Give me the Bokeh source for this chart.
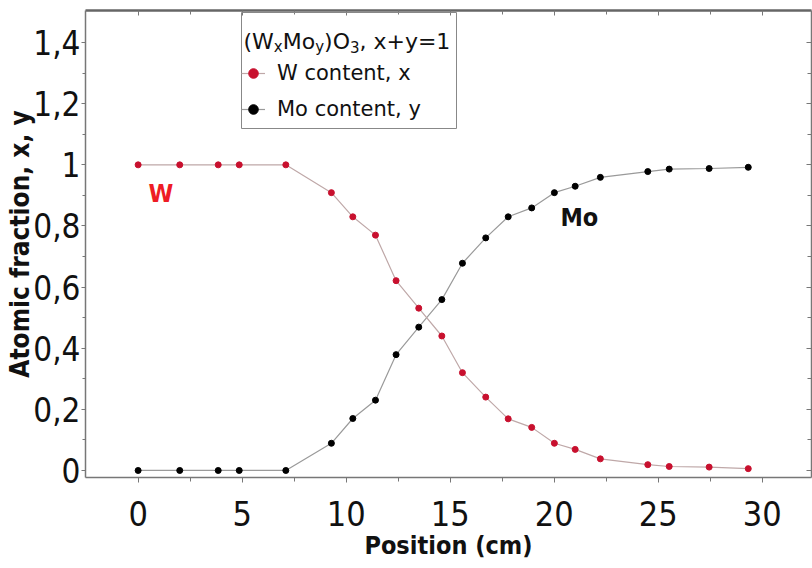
from bokeh.plotting import figure
from bokeh.models import Range1d, LinearAxis, FixedTicker, Legend, LegendItem, Label, BoxAnnotation
from bokeh.embed import file_html
from bokeh.resources import INLINE

# ---------------- data ----------------
position_cm = [0, 2.0, 3.85, 4.86, 7.1, 9.29, 10.32, 11.41, 12.4, 13.49, 14.6,
               15.59, 16.71, 17.79, 18.92, 20.01, 21.01, 22.22, 24.5, 25.53, 27.45, 29.33]
w_content = [1.0, 1.0, 1.0, 1.0, 1.0, 0.909, 0.83, 0.77, 0.621, 0.531, 0.44,
             0.32, 0.24, 0.169, 0.141, 0.089, 0.069, 0.038, 0.019, 0.013, 0.011, 0.006]
mo_content = [0.0, 0.0, 0.0, 0.0, 0.0, 0.089, 0.17, 0.23, 0.379, 0.469, 0.559,
              0.678, 0.761, 0.83, 0.859, 0.909, 0.93, 0.959, 0.978, 0.986, 0.988, 0.992]
series_names = ["W content, x", "Mo content, y"]

x_ticks = [0, 5, 10, 15, 20, 25, 30]
x_minor_ticks = [2.5, 7.5, 12.5, 17.5, 22.5, 27.5]
y_ticks = [0, 0.2, 0.4, 0.6, 0.8, 1.0, 1.2, 1.4]
y_tick_labels = ["0", "0,2", "0,4", "0,6", "0,8", "1", "1,2", "1,4"]
y_minor_ticks = [0.1, 0.3, 0.5, 0.7, 0.9, 1.1, 1.3]

# annotation anchors (data units)
w_note = dict(text="W", x=0.5, y=0.905)
mo_note = dict(text="Mo", x=20.3, y=0.828)

# ---------------- styles ----------------
AX_FONT = "DejaVu Sans Condensed"
LEG_FONT = "DejaVu Sans"
RED = "#c8102e"
AXIS_GRAY = "#777777"

p = figure(width=812, height=568, output_backend="svg", toolbar_location=None,
           x_range=Range1d(-2.53, 32.37), y_range=Range1d(-0.023, 1.505),
           min_border_left=85, min_border_right=1, min_border_top=10, min_border_bottom=91,
           x_axis_label="Position (cm)", y_axis_label="Atomic fraction, x, y")
p.grid.visible = False
p.outline_line_color = None
p.background_fill_color = "white"
p.border_fill_color = "white"

xax = p.xaxis[0]
xax.ticker = FixedTicker(ticks=x_ticks, minor_ticks=x_minor_ticks)
yax = p.yaxis[0]
yax.ticker = FixedTicker(ticks=y_ticks, minor_ticks=y_minor_ticks)
yax.major_label_overrides = {t: s for t, s in zip(y_ticks, y_tick_labels)}

for ax in (xax, yax):
    ax.axis_line_color = AXIS_GRAY
    ax.axis_line_width = 1.5
    ax.major_tick_line_color = AXIS_GRAY
    ax.minor_tick_line_color = AXIS_GRAY
    ax.major_tick_in = 0
    ax.minor_tick_in = 0
    ax.major_label_text_font = AX_FONT
    ax.major_label_text_color = "#111111"
    ax.axis_label_text_font = AX_FONT
    ax.axis_label_text_font_style = "bold"
    ax.axis_label_text_color = "#111111"

xax.major_label_text_font_size = "34px"
yax.major_label_text_font_size = "33px"
xax.axis_label_text_font_size = "25px"
yax.axis_label_text_font_size = "26px"
xax.major_tick_out = 5
xax.minor_tick_out = 4
xax.major_label_standoff = 18
xax.axis_label_standoff = 2
yax.major_tick_out = 4
yax.minor_tick_out = 3
yax.major_label_standoff = 1
yax.axis_label_standoff = -5

blank_x = {t: "" for t in x_ticks}
blank_y = {t: "" for t in y_ticks}
top = LinearAxis(ticker=FixedTicker(ticks=x_ticks, minor_ticks=x_minor_ticks),
                 major_label_overrides=blank_x,
                 major_label_text_font_size="1px", major_label_standoff=0,
                 major_tick_in=5, major_tick_out=0, minor_tick_in=4, minor_tick_out=0,
                 axis_line_color="#666666", axis_line_width=2.5,
                 major_tick_line_color=AXIS_GRAY, minor_tick_line_color=AXIS_GRAY)
p.add_layout(top, "above")
right = LinearAxis(ticker=FixedTicker(ticks=y_ticks, minor_ticks=y_minor_ticks),
                   major_label_overrides=blank_y,
                   major_label_text_font_size="1px", major_label_standoff=0,
                   major_tick_in=5, major_tick_out=0, minor_tick_in=4, minor_tick_out=0,
                   axis_line_color=AXIS_GRAY, axis_line_width=1.5,
                   major_tick_line_color=AXIS_GRAY, minor_tick_line_color=AXIS_GRAY)
p.add_layout(right, "right")

# ---------------- series ----------------
mo_line = p.line(position_cm, mo_content, line_color="#9a9a9a", line_width=1.2)
w_line = p.line(position_cm, w_content, line_color="#bfa8a8", line_width=1.2)
w_pts = p.scatter(position_cm, w_content, size=6, fill_color=RED, line_color=RED)
mo_pts = p.scatter(position_cm, mo_content, size=6, fill_color="black", line_color="black")

# ---------------- annotations ----------------
for note, col in ((w_note, "#ee1c25"), (mo_note, "#111111")):
    p.add_layout(Label(x=note["x"], y=note["y"], text=note["text"], text_color=col,
                       text_font=AX_FONT, text_font_style="bold", text_font_size="25px",
                       text_baseline="alphabetic", text_align="left"))

# ---------------- legend ----------------
# frame box of the legend (screen px, frame-relative)
p.add_layout(BoxAnnotation(left=156, right=371, top=465, bottom=349,
                           left_units="screen", right_units="screen",
                           top_units="screen", bottom_units="screen",
                           fill_alpha=0, line_color="#888888", line_width=1,
                           line_alpha=1))

legend = Legend(items=[LegendItem(label=series_names[0], renderers=[w_line, w_pts]),
                       LegendItem(label=series_names[1], renderers=[mo_line, mo_pts])],
                location=(156, 353), margin=0, padding=6, spacing=6,
                glyph_width=24, glyph_height=30, label_height=30,
                label_standoff=12, label_text_font=LEG_FONT, label_text_font_size="21px",
                label_text_color="#111111", border_line_color=None,
                background_fill_alpha=0.0)
p.add_layout(legend)

# legend title with subscripts: (W_x Mo_y) O_3, x+y=1
adv = {'(': 0.390, ')': 0.390, 'W': 0.989, 'M': 0.863, 'o': 0.612, 'O': 0.787, ',': 0.318,
       ' ': 0.318, 'x': 0.592, '+': 0.838, 'y': 0.592, '=': 0.838, '1': 0.636, '3': 0.636}
title_parts = [("(W", False), ("x", True), ("Mo", False), ("y", True),
               (")O", False), ("3", True), (", x+y=1", False)]
main_size, sub_size = 22, 15
tx = 158.0
for txt, is_sub in title_parts:
    size = sub_size if is_sub else main_size
    p.add_layout(Label(x=tx, y=431 if is_sub else 436, x_units="screen", y_units="screen",
                       text=txt, text_font=LEG_FONT, text_font_size=f"{size}px",
                       text_color="#111111", text_baseline="alphabetic", text_align="left"))
    tx += sum(adv[c] for c in txt) * size

open("out.html", "w").write(file_html(p, INLINE))
